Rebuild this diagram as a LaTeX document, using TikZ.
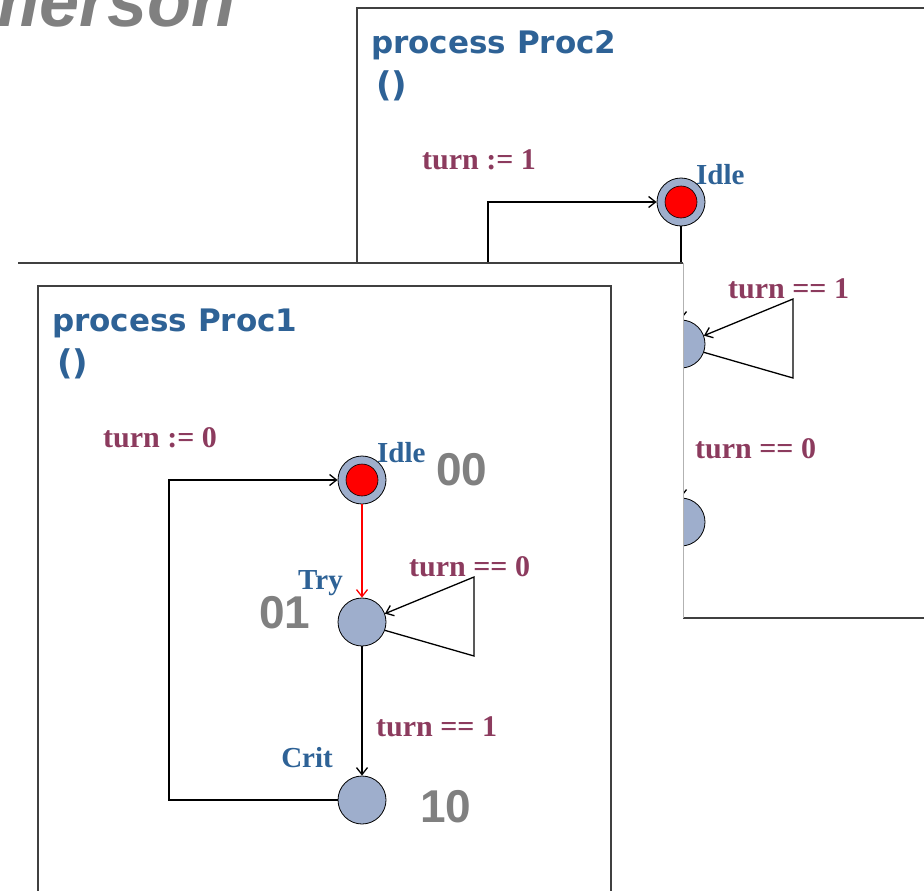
\documentclass[tikz,border=0pt]{standalone}
\usepackage{fontspec}
\setmainfont{Liberation Serif}
\newfontfamily\uisans{DejaVu Sans}
\newfontfamily\numsans{Liberation Sans}
\usetikzlibrary{arrows.meta}
\definecolor{locfill}{HTML}{9EAECC}
\definecolor{locblue}{HTML}{2E6296}
\definecolor{guardred}{HTML}{8C3B5E}
\definecolor{numgray}{HTML}{808080}
\tikzset{
    loc/.style={circle,draw=black,line width=0.8pt,fill=locfill,minimum size=48pt,inner sep=0pt},
    startloc/.style={loc,path picture={\fill[red,draw=black,line width=0.6pt]
        (path picture bounding box.center) circle (16pt);}},
    edge/.style={line width=1.3pt,-{Straight Barb[length=7pt,width=11pt]}},
    guard/.style={text=guardred,font=\fontsize{30}{32}\selectfont\bfseries,inner sep=0pt,anchor=west},
    locname/.style={text=locblue,font=\fontsize{29}{31}\selectfont\bfseries,inner sep=0pt,anchor=west},
    proctitle/.style={text=locblue,font=\uisans\bfseries\fontsize{31}{33}\selectfont,inner sep=0pt,anchor=west},
    statenum/.style={text=numgray,font=\numsans\bfseries\fontsize{46}{48}\selectfont,inner sep=0pt},
    frame/.style={draw=black!75,line width=2pt}
}
% one process window: #1 suffix, #2 name, #3 reset value, #4 loop guard, #5 guard to Crit, #6 shift
\newcommand{\procwin}[6]{%
  \begin{scope}[shift={#6}]
    \draw[frame] (38,286) rectangle (611,896);
    \node[proctitle] (title#1) at (52,323) {process #2};
    \node[proctitle,font=\uisans\bfseries\fontsize{34}{36}\selectfont] (args#1) at (57,364) {()};
    \node[startloc] (idle#1) at (362,480) {};
    \node[loc] (try#1) at (362,622) {};
    \node[loc] (crit#1) at (362,800) {};
    \coordinate (back#1) at (169,800);
    \coordinate (ltop#1) at (474,577);
    \coordinate (lbot#1) at (474,656);
    \draw[edge] (crit#1) -- (back#1) |- (idle#1);
    \draw[edge] (try#1) -- (crit#1);
    \draw[edge] (try#1.-20) -- (lbot#1) -- (ltop#1) -- (try#1.20);
    \node[guard] (reset#1) at (103,438) {turn := #3};
    \node[guard] (loopg#1) at (409,567) {turn == #4};
    \node[guard] (critg#1) at (376,727) {turn == #5};
    \node[locname] (idlename#1) at (377,453) {Idle};
    \node[locname,anchor=east] (tryname#1) at (343,583) {Try};
    \node[locname,anchor=east] (critname#1) at (333,758) {Crit};
  \end{scope}
}

\begin{document}
\begin{tikzpicture}[x=1pt,y=-1pt]
    \useasboundingbox (0,0) rectangle (924,891);
    \clip (0,0) rectangle (924,891);
    \node[anchor=base east,text=numgray,inner sep=0pt,
      font=\numsans\bfseries\itshape\fontsize{72}{74}\selectfont] (heading) at (236,27) {merson};
    % window behind
    \procwin{2}{Proc2}{1}{1}{0}{(319,-278)}
    \draw[edge] (idle2) -- (try2);
    % window in front
    \fill[white] (18,263) rectangle (683,900);
    \draw[black!75,line width=1.5pt] (18,263) -- (683,263);
    \draw[black!30,line width=0.8pt] (683,263) -- (683,618);
    \procwin{1}{Proc1}{0}{0}{1}{(0,0)}
    \draw[edge,red] (idle1) -- (try1);
    \node[statenum] (num00) at (462,470) {00};
    \node[statenum] (num01) at (285,613) {01};
    \node[statenum] (num10) at (446,807) {10};
\end{tikzpicture}
\end{document}
